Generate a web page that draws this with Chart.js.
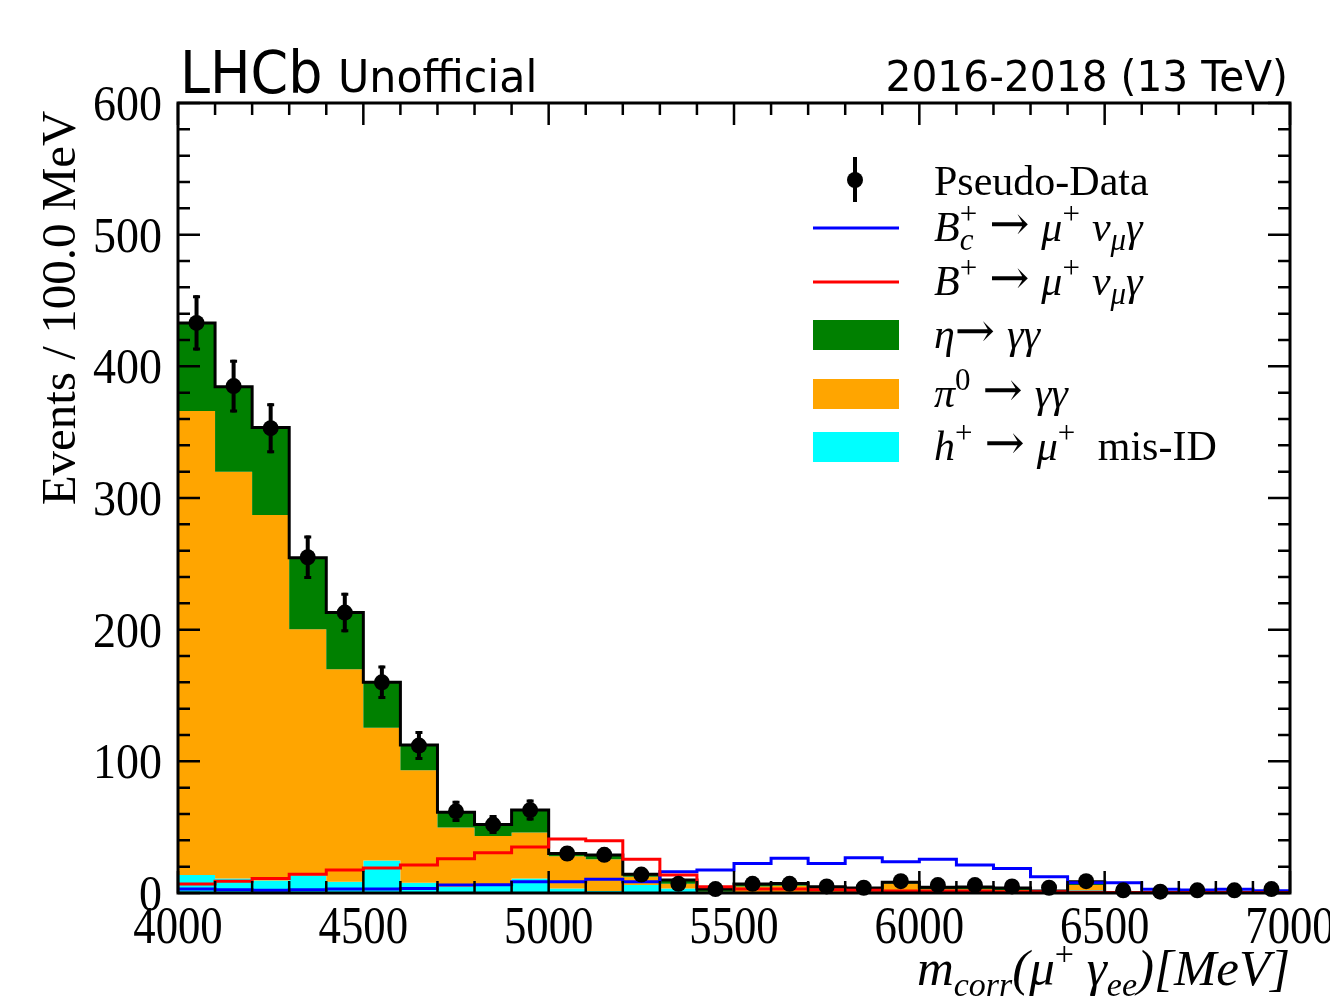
<!DOCTYPE html>
<html>
<head>
<meta charset="utf-8">
<script src="https://cdn.jsdelivr.net/npm/chart.js@4.4.1/dist/chart.umd.min.js"></script>
<style>
  html, body { margin: 0; padding: 0; background: #fff; }
  canvas { display: block; }
</style>
</head>
<body>
<canvas id="grafico" width="1330" height="1000"></canvas>
<script>
// bins de 100 MeV, 4000 -> 7000
const binEdges = [4000, 4100, 4200, 4300, 4400, 4500, 4600, 4700, 4800, 4900, 5000,
  5100, 5200, 5300, 5400, 5500, 5600, 5700, 5800, 5900, 6000,
  6100, 6200, 6300, 6400, 6500, 6600, 6700, 6800, 6900, 7000];
const binCenters = [4050, 4150, 4250, 4350, 4450, 4550, 4650, 4750, 4850, 4950,
  5050, 5150, 5250, 5350, 5450, 5550, 5650, 5750, 5850, 5950,
  6050, 6150, 6250, 6350, 6450, 6550, 6650, 6750, 6850, 6950];

// fundos empilhados
const misId = [13.7, 11, 9.5, 13.5, 8.6, 24.7, 7.8, 4.8, 6, 11, 3.5, 1.5, 6, 3.5, 0.5,
  0.5, 0.5, 0.3, 0.3, 0.3, 0.3, 0.3, 0.3, 0.2, 2, 0.1, 0.1, 0.1, 0.1, 0.1];
const pi0 = [352.3, 309, 277.5, 186.8, 161.4, 100.9, 85.4, 45, 37.3, 35, 24.5, 24.1, 6.4, 3.5, 0.5,
  4.5, 5, 1.5, 1, 7, 2.5, 2.5, 2, 0.5, 4, 0.1, 0.1, 0.1, 0.1, 0.1];
const eta = [67, 64.5, 66.6, 54.4, 43, 34.4, 19.2, 11.5, 8.7, 17, 2, 3.3, 1.8, 2.9, 2,
  1.8, 1.8, 3, 2.5, 0.8, 1.5, 1.7, 1.5, 0.8, 2.6, 0.1, 0.1, 0.1, 0.1, 0.1];

// sinais (nao empilhados)
const bcSignal = [3, 2.5, 2, 2.5, 3, 3, 3.5, 6, 6.3, 8.5, 8.6, 10.4, 8.6, 16.2, 17.5,
  22.5, 26.3, 22.5, 26.8, 23.8, 25.6, 21.3, 18.7, 12.4, 7.8, 7.8, 2.8, 2.3, 2.8, 1.8];
const bSignal = [6.8, 9, 11, 14.2, 17.5, 19, 21.3, 26, 30.5, 35, 41, 39.7, 25.6, 13.7, 4.8,
  3, 3, 2.5, 2, 1.5, 1.5, 1.5, 1, 1, 0.5, 0.3, 0.3, 0.3, 0.3, 0.3];

// pseudo-dados
const pseudoData = [433, 385, 353, 255, 213, 160, 112, 62, 52, 63, 30, 29, 14, 7, 3,
  7, 7, 5, 4, 9, 6, 6, 5, 4, 9, 2, 1, 2, 2, 3];
const pseudoErr = [21, 20, 19, 16.5, 15, 12.7, 11, 8, 7.2, 8, 5.5, 5.4, 3.7, 2.6, 1.7,
  2.6, 2.6, 2.2, 2, 3, 2.4, 2.4, 2.2, 2, 3, 1.4, 1, 1.4, 1.4, 1.7];

const xTickLabels = [4000, 4500, 5000, 5500, 6000, 6500, 7000];
const yTickLabels = [0, 100, 200, 300, 400, 500, 600];

const SERIF = '"Liberation Serif", "Times New Roman", serif';
const SANS = '"DejaVu Sans", sans-serif';
const ARROWF = '"DejaVu Serif", serif';

// cumulativos para o empilhamento
const cumCyan = misId.slice();
const cumOrange = misId.map((v, i) => v + pi0[i]);
const cumGreen = cumOrange.map((v, i) => v + eta[i]);

function stepPoints(vals) {
  const pts = vals.map((v, i) => ({ x: binEdges[i], y: v }));
  pts.push({ x: binEdges[binEdges.length - 1], y: vals[vals.length - 1] });
  return pts;
}

// texto com sub/sobrescritos
function drawRich(ctx, runs, x, y, measureOnly) {
  let cx = x;
  runs.forEach(r => {
    ctx.font = (r.i ? 'italic ' : '') + r.s + 'px ' + (r.f || SERIF);
    const w = ctx.measureText(r.t).width;
    if (!measureOnly) ctx.fillText(r.t, cx + (r.dx || 0), y + (r.dy || 0));
    if (!r.stay) cx += w + (r.dx || 0);
  });
  return cx - x;
}

const M = 42, S = 31, UP = -17, DN = 9;
const ARROW = { t: '\u2192', s: 48, f: ARROWF, dy: -1 };
const SP = { t: ' ', s: 48 };
const legendRows = [
  { type: 'data', label: [{ t: 'Pseudo-Data', s: 42 }] },
  { type: 'line', color: '#0000ff', label: [
    { t: 'B', i: 1, s: M }, { t: 'c', i: 1, s: S, dy: DN, stay: 1 }, { t: '+', s: S, dy: UP },
    SP, ARROW, SP, { t: '\u03bc', i: 1, s: M }, { t: '+', s: S, dy: UP }, SP,
    { t: '\u03bd', i: 1, s: M }, { t: '\u03bc', i: 1, s: S, dy: DN }, { t: '\u03b3', i: 1, s: M }] },
  { type: 'line', color: '#ff0000', label: [
    { t: 'B', i: 1, s: M }, { t: '+', s: S, dy: UP },
    SP, ARROW, SP, { t: '\u03bc', i: 1, s: M }, { t: '+', s: S, dy: UP }, SP,
    { t: '\u03bd', i: 1, s: M }, { t: '\u03bc', i: 1, s: S, dy: DN }, { t: '\u03b3', i: 1, s: M }] },
  { type: 'box', color: '#008000', label: [
    { t: '\u03b7', i: 1, s: M }, ARROW, SP, { t: '\u03b3\u03b3', i: 1, s: M }] },
  { type: 'box', color: '#ffa500', label: [
    { t: '\u03c0', i: 1, s: M }, { t: '0', s: S, dy: UP }, SP, ARROW, SP, { t: '\u03b3\u03b3', i: 1, s: M }] },
  { type: 'box', color: '#00ffff', label: [
    { t: 'h', i: 1, s: M }, { t: '+', s: S, dy: UP }, SP, ARROW, SP,
    { t: '\u03bc', i: 1, s: M }, { t: '+', s: S, dy: UP }, SP, { t: ' mis-ID', s: M }] }
];
const legendBaselines = [195, 241, 295, 348, 407, 460];

function condensed(ctx, text, x, y, font, align, sx) {
  ctx.save();
  ctx.translate(x, y);
  ctx.scale(sx, 1);
  ctx.font = font;
  ctx.textAlign = align;
  ctx.textBaseline = 'alphabetic';
  ctx.fillText(text, 0, 0);
  ctx.restore();
}

const decoracao = {
  id: 'decoracao',
  afterDatasetsDraw(chart) {
    const ctx = chart.ctx;
    const xs = chart.scales.x, ys = chart.scales.y;
    const a = chart.chartArea;
    ctx.save();
    ctx.strokeStyle = '#000';
    ctx.fillStyle = '#000';

    // barras de erro
    pseudoData.forEach((v, i) => {
      const px = xs.getPixelForValue(binCenters[i]);
      const y1 = ys.getPixelForValue(v + pseudoErr[i]);
      const y2 = ys.getPixelForValue(Math.max(0, v - pseudoErr[i]));
      ctx.lineWidth = 4;
      ctx.beginPath(); ctx.moveTo(px, y1); ctx.lineTo(px, y2); ctx.stroke();
      ctx.lineWidth = 3;
      ctx.beginPath();
      ctx.moveTo(px - 3.5, y1 + 1.5); ctx.lineTo(px + 3.5, y1 + 1.5);
      ctx.moveTo(px - 3.5, y2 - 1.5); ctx.lineTo(px + 3.5, y2 - 1.5);
      ctx.stroke();
    });

    // ticks para dentro nos quatro lados
    ctx.lineWidth = 2.5;
    ctx.beginPath();
    for (let v = 4000; v <= 7000; v += 100) {
      const px = xs.getPixelForValue(v);
      const len = v % 500 === 0 ? 22 : 12;
      ctx.moveTo(px, a.bottom); ctx.lineTo(px, a.bottom - len);
      ctx.moveTo(px, a.top); ctx.lineTo(px, a.top + len);
    }
    for (let v = 0; v <= 600; v += 20) {
      const py = ys.getPixelForValue(v);
      const len = v % 100 === 0 ? 22 : 12;
      ctx.moveTo(a.left, py); ctx.lineTo(a.left + len, py);
      ctx.moveTo(a.right, py); ctx.lineTo(a.right - len, py);
    }
    ctx.stroke();

    ctx.lineWidth = 3;
    ctx.strokeRect(a.left, a.top, a.right - a.left, a.bottom - a.top);

    // rotulos dos eixos
    xTickLabels.forEach(v => {
      condensed(ctx, String(v), xs.getPixelForValue(v), 943, '52px ' + SERIF, 'center', 0.86);
    });
    yTickLabels.forEach(v => {
      condensed(ctx, String(v), 162, ys.getPixelForValue(v) + 17, '50px ' + SERIF, 'right', 0.92);
    });

    // titulo eixo y
    ctx.save();
    ctx.translate(75, 308);
    ctx.rotate(-Math.PI / 2);
    ctx.font = '49px ' + SERIF;
    ctx.textAlign = 'center';
    ctx.fillText('Events / 100.0 MeV', 0, 0);
    ctx.restore();

    // titulo eixo x
    ctx.textAlign = 'left';
    const xTitle = [
      { t: 'm', i: 1, s: 51 }, { t: 'corr', i: 1, s: 34, dy: 11 }, { t: '(\u03bc', i: 1, s: 51 },
      { t: '+', s: 34, dy: -20 }, { t: ' \u03b3', i: 1, s: 51 }, { t: 'ee', i: 1, s: 34, dy: 11 },
      { t: ')[MeV]', i: 1, s: 51 }];
    const wx = drawRich(ctx, xTitle, 0, 0, true);
    drawRich(ctx, xTitle, 1290 - wx, 985);

    // cabecalho
    condensed(ctx, 'LHCb', 180, 93, '58px ' + SANS, 'left', 0.93);
    condensed(ctx, 'Unofficial', 338, 92, '45px ' + SANS, 'left', 0.95);
    condensed(ctx, '2016-2018 (13 TeV)', 1288, 91, '42px ' + SANS, 'right', 0.97);

    // legenda
    legendRows.forEach((row, k) => {
      const base = legendBaselines[k];
      if (row.type === 'data') {
        ctx.lineWidth = 4;
        ctx.beginPath(); ctx.moveTo(855, 157); ctx.lineTo(855, 202); ctx.stroke();
        ctx.beginPath(); ctx.arc(855, 180, 8, 0, Math.PI * 2); ctx.fill();
      } else if (row.type === 'line') {
        ctx.strokeStyle = row.color;
        ctx.lineWidth = 3;
        ctx.beginPath(); ctx.moveTo(813, base - 13); ctx.lineTo(899, base - 13); ctx.stroke();
        ctx.strokeStyle = '#000';
      } else {
        ctx.fillStyle = row.color;
        ctx.fillRect(813, base - 28, 86, 30);
        ctx.fillStyle = '#000';
      }
      ctx.textAlign = 'left';
      drawRich(ctx, row.label, 934, base);
    });
    ctx.restore();
  }
};

const ctx = document.getElementById('grafico').getContext('2d');
new Chart(ctx, {
  type: 'line',
  data: {
    datasets: [
      { label: 'mis-ID', data: stepPoints(cumCyan), stepped: 'before', borderWidth: 0,
        backgroundColor: '#00ffff', fill: 'origin', pointRadius: 0, order: 70 },
      { label: 'pi0', data: stepPoints(cumOrange), stepped: 'before', borderWidth: 0,
        backgroundColor: '#ffa500', fill: '-1', pointRadius: 0, order: 60 },
      { label: 'eta', data: stepPoints(cumGreen), stepped: 'before', borderWidth: 0,
        backgroundColor: '#008000', fill: '-1', pointRadius: 0, order: 50 },
      { label: 'total', data: stepPoints(cumGreen), stepped: 'before', borderWidth: 3,
        borderColor: '#000', fill: false, pointRadius: 0, order: 40 },
      { label: 'Bc', data: stepPoints(bcSignal), stepped: 'before', borderWidth: 3,
        borderColor: '#0000ff', fill: false, pointRadius: 0, order: 30 },
      { label: 'B', data: stepPoints(bSignal), stepped: 'before', borderWidth: 3,
        borderColor: '#ff0000', fill: false, pointRadius: 0, order: 20 },
      { label: 'Pseudo-Data', data: pseudoData.map((v, i) => ({ x: binCenters[i], y: v })),
        showLine: false, pointRadius: 8, pointBackgroundColor: '#000', pointBorderWidth: 0,
        order: 10, clip: false }
    ]
  },
  options: {
    responsive: false,
    animation: false,
    events: [],
    layout: { padding: { left: 178, top: 103, right: 40, bottom: 107 } },
    scales: {
      x: { type: 'linear', min: 4000, max: 7000, display: false },
      y: { type: 'linear', min: 0, max: 600, display: false }
    },
    plugins: {
      legend: { display: false },
      tooltip: { enabled: false }
    }
  },
  plugins: [decoracao]
});
</script>
</body>
</html>
